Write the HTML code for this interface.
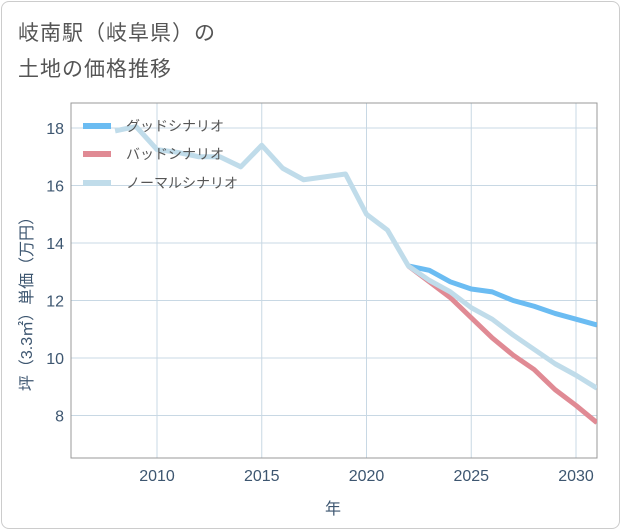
<!DOCTYPE html>
<html><head><meta charset="utf-8"><style>
body{margin:0;background:#fff;font-family:"Liberation Sans","Noto Sans CJK JP",sans-serif;}
#card{position:absolute;left:1px;top:1px;width:617px;height:526px;border:1px solid #ccc;border-radius:8px;}
#title{position:absolute;left:18px;top:16px;font-size:21px;line-height:36px;color:#555;letter-spacing:1px;}
svg{position:absolute;left:0;top:0;}
</style></head><body>
<div id="card"></div>
<div id="title">岐南駅（岐阜県）の<br>土地の価格推移</div>
<svg id="chart" width="621" height="530"></svg>
<script>
const years=[2008,2009,2010,2011,2012,2013,2014,2015,2016,2017,2018,2019,2020,2021,2022];
const normalPast=[17.9,18.05,17.25,17.15,17.0,17.0,16.65,17.4,16.6,16.2,16.3,16.4,15.0,14.45,13.2];
const futureYears=[2022,2023,2024,2025,2026,2027,2028,2029,2030,2031];
const good=[13.2,13.05,12.65,12.4,12.3,12.0,11.8,11.55,11.35,11.15];
const bad=[13.2,12.65,12.1,11.4,10.7,10.1,9.6,8.9,8.35,7.75];
const normal=[13.2,12.7,12.3,11.75,11.35,10.8,10.3,9.8,9.4,8.95];
const xTicks=[2010,2015,2020,2025,2030];
const yTicks=[8,10,12,14,16,18];
const L=71,R=597,T=103,B=458;
const xs=y=>157+(y-2010)*20.95;
const ys=v=>128+(18-v)*28.75;
const svg=document.getElementById('chart');
const NS='http://www.w3.org/2000/svg';
function mk(t,a){const e=document.createElementNS(NS,t);for(const k in a)e.setAttribute(k,a[k]);svg.appendChild(e);return e;}
const defs=mk('defs',{});
const cp=document.createElementNS(NS,'clipPath');cp.setAttribute('id','clip');
const cr=document.createElementNS(NS,'rect');cr.setAttribute('x',L);cr.setAttribute('y',T);cr.setAttribute('width',R-L);cr.setAttribute('height',B-T);
cp.appendChild(cr);defs.appendChild(cp);
xTicks.forEach(t=>{
 const g=mk('line',{x1:xs(t),x2:xs(t),y1:T,y2:B,stroke:'#c8d8e4','stroke-width':1});
 
 
 const tx=mk('text',{x:xs(t),y:481,'text-anchor':'middle','font-size':16,fill:'#3d5670'});
 tx.textContent=t;
 
 
});
yTicks.forEach(t=>{
 const g=mk('line',{x1:L,x2:R,y1:ys(t),y2:ys(t),stroke:'#c8d8e4','stroke-width':1});
 
 
 const tx=mk('text',{x:64,y:ys(t)+6,'text-anchor':'end','font-size':16,fill:'#3d5670'});
 tx.textContent=t;
 
 
});
const fr=mk('rect',{x:L,y:T,width:R-L,height:B-T,fill:'none',stroke:'#999','stroke-width':1});


function line(xa,va,col,name){
 const p=mk('polyline',{points:xa.map((y,i)=>xs(y)+','+ys(va[i])).join(' '),fill:'none',stroke:col,'stroke-width':5,'stroke-linejoin':'round','clip-path':'url(#clip)'});
 
 
}
line(futureYears,good,'#6bbcf2','good-scenario-line');
line(futureYears,bad,'#e08a94','bad-scenario-line');
line(years.concat(futureYears.slice(1)),normalPast.concat(normal.slice(1)),'#c0dcea','normal-scenario-line');
const leg=[['グッドシナリオ','#6bbcf2',126],['バッドシナリオ','#e08a94',154],['ノーマルシナリオ','#c0dcea',183]];
leg.forEach(l=>{
 const s=mk('line',{x1:83,x2:111,y1:l[2],y2:l[2],stroke:l[1],'stroke-width':6});
 
 
 const t=mk('text',{x:126,y:l[2]+5,'font-size':14,fill:'#555'});
 t.textContent=l[0];
 
 
});
const xt=mk('text',{x:333,y:514,'text-anchor':'middle','font-size':16,fill:'#3d5670'});
xt.textContent='年';


const yt=mk('text',{x:0,y:0,'text-anchor':'middle','font-size':16,fill:'#3d5670',transform:'translate(32,300) rotate(-90)'});
yt.textContent='坪（3.3㎡）単価（万円）';


</script>
</body></html>
